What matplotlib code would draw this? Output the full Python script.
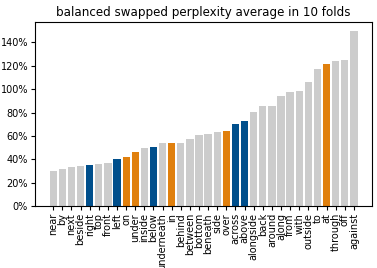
import matplotlib.pyplot as plt
from matplotlib.ticker import PercentFormatter

labels = ["near", "by", "next", "beside", "right", "top", "front", "left", "on",
          "under", "inside", "below", "underneath", "in", "behind", "between",
          "bottom", "beneath", "side", "over", "across", "above", "alongside",
          "back", "around", "along", "from", "with", "outside", "to", "at",
          "through", "off", "against"]
values = [30.0, 31.8, 33.5, 34.6, 34.9, 36.0, 37.2, 40.3, 42.0, 46.4, 49.5, 50.6,
          53.8, 54.1, 54.3, 57.0, 60.4, 61.4, 63.7, 64.5, 70.5, 73.0, 80.5, 85.3,
          86.0, 94.0, 97.7, 98.8, 106.0, 117.5, 121.5, 123.8, 125.2, 150.0]
blue_words = ["right", "left", "below", "across", "above"]
orange_words = ["on", "under", "in", "over", "at"]

colors = []
for w in labels:
    if w in blue_words:
        colors.append("#004f8c")
    elif w in orange_words:
        colors.append("#e0800e")
    else:
        colors.append("#cccccc")

fig = plt.figure(figsize=(3.77, 2.68), dpi=100)
ax = fig.add_axes([0.093, 0.231, 0.894, 0.687])
ax.bar(range(len(labels)), [v / 100 for v in values], width=0.8, color=colors)
ax.set_xticks(range(len(labels)))
ax.set_xticklabels(labels, rotation=90, fontsize=7)
ax.yaxis.set_major_formatter(PercentFormatter(1.0, decimals=0))
ax.set_yticks([0, 0.2, 0.4, 0.6, 0.8, 1.0, 1.2, 1.4])
ax.tick_params(axis="y", labelsize=7)
ax.tick_params(length=3, width=0.8, pad=2)
ax.set_xlim(-2, len(labels) + 1)
ax.set_title("balanced swapped perplexity average in 10 folds", fontsize=8.6, pad=4)
fig.savefig("out.png", dpi=100)
